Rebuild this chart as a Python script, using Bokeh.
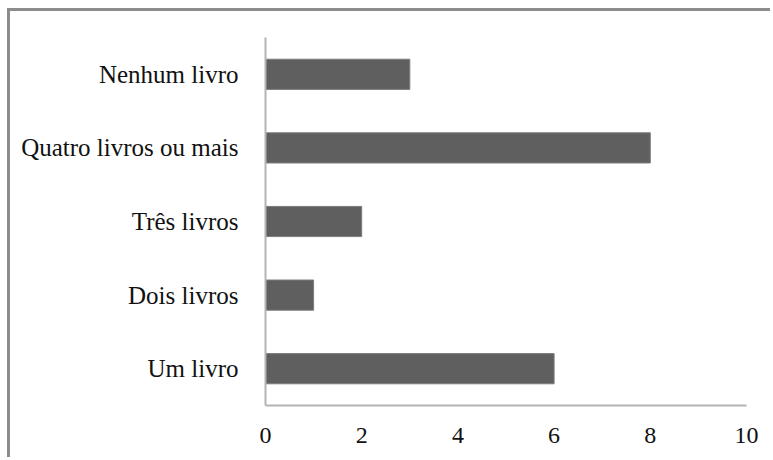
from bokeh.plotting import figure
from bokeh.models import Range1d, FactorRange, FixedTicker
from bokeh.embed import file_html
from bokeh.resources import INLINE

# Number of books read, bottom-to-top category order
categories = ["Um livro", "Dois livros", "Três livros", "Quatro livros ou mais", "Nenhum livro"]
counts = [6, 1, 2, 8, 3]
x_ticks = [0, 2, 4, 6, 8, 10]

FONT = "Liberation Serif"
AXIS_GRAY = "#b4b4b4"

p = figure(
    width=763, height=449,
    y_range=FactorRange(*categories, range_padding=0),
    x_range=Range1d(0, 10),
    output_backend="svg", toolbar_location=None,
    min_border_left=255, min_border_right=27,
    min_border_top=26, min_border_bottom=55,
)
p.styles = {
    "margin-left": "7px", "margin-top": "8px",
    "border-left": "3px solid #8c8c8c", "border-top": "3px solid #8c8c8c",
}

p.hbar(y=categories, right=counts, height=0.41, left=0,
       fill_color="#5f5f5f", line_color="#7c7c7c", line_width=1)

p.outline_line_color = None
p.xgrid.grid_line_color = None
p.ygrid.grid_line_color = None

for ax in (p.xaxis, p.yaxis):
    ax.axis_line_color = AXIS_GRAY
    ax.axis_line_width = 2
    ax.major_tick_line_color = None
    ax.minor_tick_line_color = None
    ax.major_label_text_font = FONT
    ax.major_label_text_font_size = "24px"
    ax.major_label_text_color = "#111111"

p.yaxis.major_label_text_font_size = "25px"
p.xaxis.ticker = FixedTicker(ticks=x_ticks)
p.xaxis.major_label_standoff = 16
p.yaxis.major_label_standoff = 21

open("out.html", "w").write(file_html(p, INLINE))
